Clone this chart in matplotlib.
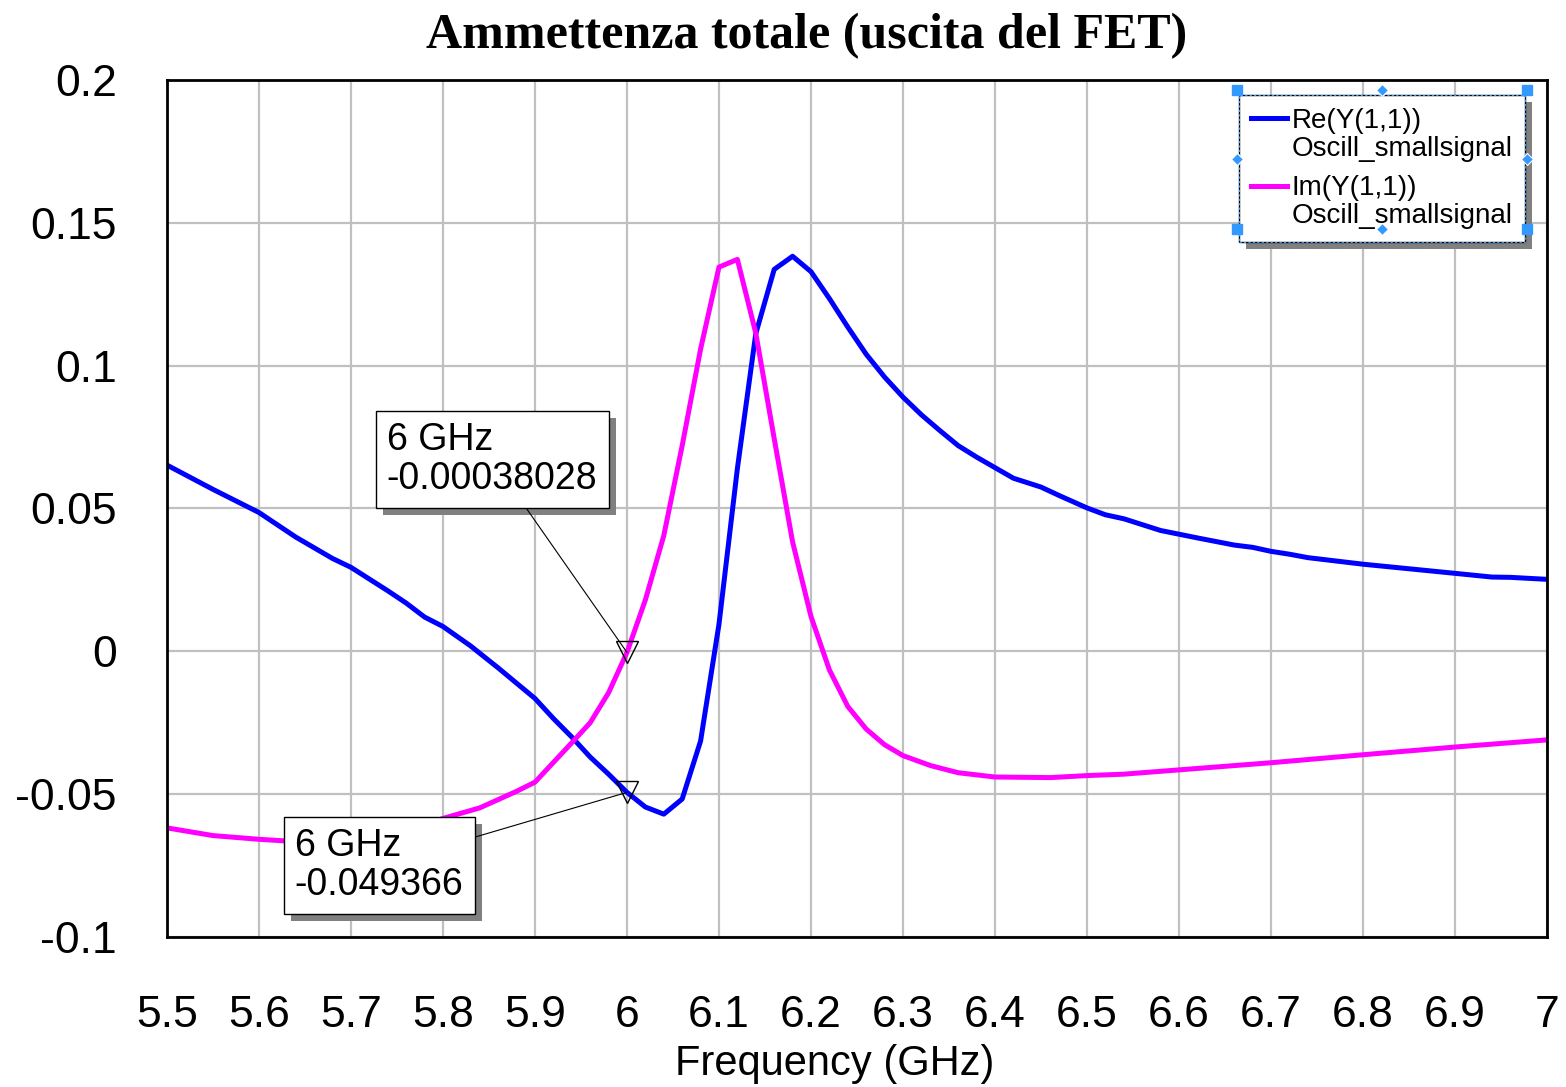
import matplotlib
matplotlib.use("Agg")
import matplotlib.pyplot as plt
from matplotlib.patches import Rectangle
from matplotlib import font_manager

# data
freq_re = [5.50, 5.55, 5.60, 5.64, 5.68, 5.70, 5.74, 5.76, 5.78, 5.80, 5.83, 5.86,
           5.90, 5.92, 5.94, 5.96, 5.98, 6.00, 6.02, 6.04, 6.06, 6.08, 6.10, 6.12,
           6.14, 6.16, 6.18, 6.20, 6.22, 6.24, 6.26, 6.28, 6.30, 6.32, 6.34, 6.36,
           6.38, 6.40, 6.42, 6.45, 6.47, 6.50, 6.52, 6.54, 6.58, 6.62, 6.66, 6.68,
           6.70, 6.72, 6.74, 6.80, 6.90, 6.94, 6.96, 7.00]
re_y = [0.0652, 0.0567, 0.0486, 0.0400, 0.0325, 0.0294, 0.0212, 0.0169, 0.0120, 0.0087,
        0.0019, -0.0058, -0.0165, -0.0235, -0.0300, -0.0370, -0.0430, -0.049366, -0.0545,
        -0.0570, -0.0517, -0.0314, 0.0095, 0.0640, 0.1112, 0.1337, 0.1383, 0.1329, 0.1235,
        0.1135, 0.1040, 0.0960, 0.0890, 0.0828, 0.0773, 0.0720, 0.0680, 0.0643, 0.0606,
        0.0575, 0.0545, 0.0502, 0.0478, 0.0464, 0.0423, 0.0397, 0.0372, 0.0364, 0.0350,
        0.0340, 0.0328, 0.0305, 0.0273, 0.0260, 0.0259, 0.0252]

freq_im = [5.50, 5.55, 5.60, 5.62, 5.66, 5.70, 5.75, 5.80, 5.84, 5.88, 5.90, 5.94,
           5.96, 5.98, 6.00, 6.02, 6.04, 6.06, 6.08, 6.10, 6.12, 6.14, 6.16, 6.18,
           6.20, 6.22, 6.24, 6.26, 6.28, 6.30, 6.33, 6.36, 6.40, 6.46, 6.50, 6.54,
           6.60, 6.70, 6.80, 6.90, 7.00]
im_y = [-0.0618, -0.0645, -0.0658, -0.0662, -0.0670, -0.0668, -0.0640, -0.0585, -0.0548,
        -0.0490, -0.0458, -0.0320, -0.0250, -0.0145, -0.00038028, 0.0180, 0.0405, 0.0720,
        0.1058, 0.1345, 0.1372, 0.1114, 0.0745, 0.0383, 0.0122, -0.0065, -0.0193, -0.0272,
        -0.0327, -0.0365, -0.0400, -0.0425, -0.0440, -0.0442, -0.0435, -0.0430, -0.0415,
        -0.0390, -0.0362, -0.0335, -0.0310]

marker_f = 6.0
marker_im = -0.00038028
marker_re = -0.049366

x_ticks = [5.5, 5.6, 5.7, 5.8, 5.9, 6.0, 6.1, 6.2, 6.3, 6.4, 6.5, 6.6, 6.7, 6.8, 6.9, 7.0]
y_ticks = [-0.1, -0.05, 0, 0.05, 0.1, 0.15, 0.2]

names = {f.name for f in font_manager.fontManager.ttflist}
sans = ['Liberation Sans Narrow', 'Liberation Sans', 'DejaVu Sans']
sans = [n for n in sans if n in names] or ['DejaVu Sans']
plt.rcParams['font.family'] = sans

fig = plt.figure(figsize=(15.66, 10.87), dpi=100)
ax = fig.add_axes([0.1066, 0.138, 0.8813, 0.7884])

ax.plot(freq_re, re_y, color='#0000ff', lw=3.6, zorder=2,
        label='Re(Y(1,1))\nOscill_smallsignal')
ax.plot(freq_im, im_y, color='#ff00ff', lw=3.6, zorder=2,
        label='Im(Y(1,1))\nOscill_smallsignal')
ax.plot([marker_f, marker_f], [marker_im, marker_re], 'v', ms=16, mfc='none',
        mec='black', mew=1, zorder=4)

ax.set_xlim(5.5, 7.0)
ax.set_ylim(-0.1, 0.2)
ax.set_xticks(x_ticks)
ax.set_yticks(y_ticks)
ax.set_xticklabels(['%g' % t for t in x_ticks])
ax.set_yticklabels(['%g' % t for t in y_ticks])
ax.tick_params(length=0, labelsize=32)
ax.tick_params(axis='y', pad=36)
ax.tick_params(axis='x', pad=42)
ax.grid(True, color='#c0c0c0', lw=1.6)
ax.set_axisbelow(True)
for s in ax.spines.values():
    s.set_linewidth(2)
    s.set_color('black')

ax.set_xlabel('Frequency (GHz)', fontsize=30)
ax.xaxis.set_label_coords(0.484, -0.125)

fig.text(0.515, 1 - 36 / 1087, 'Ammettenza totale (uscita del FET)',
         family=['Liberation Serif', 'DejaVu Serif'], weight='bold', fontsize=36,
         ha='center', va='center')

# marker annotations
ann1 = ax.annotate('6 GHz\n-%.8f' % abs(marker_im), xy=(marker_f, marker_im),
                   xytext=(5.739, 0.0803), ha='left', va='top', fontsize=27,
                   linespacing=1.1, zorder=5,
                   bbox=dict(boxstyle='square,pad=0.3', fc='white', ec='black', lw=1),
                   arrowprops=dict(arrowstyle='-', color='black', lw=0.8,
                                   shrinkA=0, shrinkB=0))
ann2 = ax.annotate('6 GHz\n%g' % marker_re, xy=(marker_f, marker_re),
                   xytext=(5.639, -0.0618), ha='left', va='top', fontsize=27,
                   linespacing=1.1, zorder=5,
                   bbox=dict(boxstyle='square,pad=0.3', fc='white', ec='black', lw=1),
                   arrowprops=dict(arrowstyle='-', color='black', lw=0.8,
                                   shrinkA=0, shrinkB=0))

leg = ax.legend(loc='upper right', bbox_to_anchor=(0.984, 0.9825), borderaxespad=0,
                fontsize=20, handlelength=1.3, handletextpad=0.15, borderpad=0.45,
                labelspacing=0.5, fancybox=False, framealpha=1, edgecolor='black')
leg.get_frame().set_linewidth(1)
leg.set_zorder(6)
for t in leg.get_texts():
    t.set_linespacing(1.1)
for ln in leg.get_lines():
    ln.set_linewidth(3.6)
    ln.set_ydata([y + 12 for y in ln.get_ydata()])

fig.canvas.draw()
inv = ax.transAxes.inverted()


def shadow(bb, z, dx=7, dy=7):
    (x0, y0), (x1, y1) = inv.transform([(bb.x0 + dx, bb.y0 - dy), (bb.x1 + dx, bb.y1 - dy)])
    ax.add_patch(Rectangle((x0, y0), x1 - x0, y1 - y0, transform=ax.transAxes,
                           fc='#808080', ec='none', zorder=z, clip_on=False))


shadow(ann1.get_bbox_patch().get_window_extent(), 4.5)
shadow(ann2.get_bbox_patch().get_window_extent(), 4.5)
lb = leg.get_window_extent()
shadow(lb, 5.5, 7, 7)

# selection handles around the legend
(lx0, ly0), (lx1, ly1) = inv.transform([(lb.x0 - 2, lb.y0 + 13), (lb.x1 + 2, lb.y1 + 5)])
(dx0, dy0), (dx1, dy1) = inv.transform([(lb.x0, lb.y0), (lb.x1, lb.y1)])
ax.add_patch(Rectangle((dx0, dy0), dx1 - dx0, dy1 - dy0, transform=ax.transAxes,
                       fc='none', ec='#3399ff', lw=0.8, ls=(0, (2, 2)), zorder=7,
                       clip_on=False))
lxm, lym = (lx0 + lx1) / 2, (ly0 + ly1) / 2
ax.plot([lx0, lx1, lx0, lx1], [ly0, ly0, ly1, ly1], 's', ms=7, color='#3399ff',
        transform=ax.transAxes, clip_on=False, zorder=8)
ax.plot([lxm, lx0, lx1, lxm], [ly1, lym, lym, ly0], 'D', ms=6, color='#3399ff',
        mec='white', mew=0.8, transform=ax.transAxes, clip_on=False, zorder=8)

fig.savefig('out.png', dpi=100)
